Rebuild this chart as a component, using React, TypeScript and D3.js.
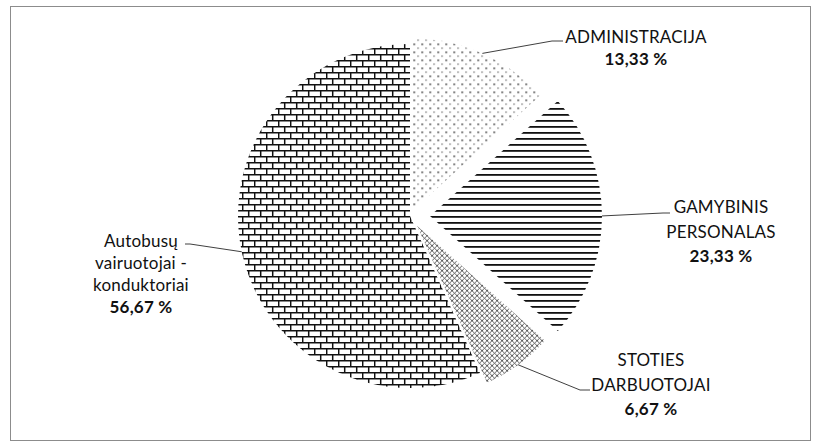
import React from "react";
import * as d3 from "d3";

// data
const categories = [
  "ADMINISTRACIJA",
  "GAMYBINIS PERSONALAS",
  "STOTIES DARBUOTOJAI",
  "Autobusų vairuotojai - konduktoriai",
];
const values = [13.33, 23.33, 6.67, 56.67];
const labelLines = [
  ["ADMINISTRACIJA"],
  ["GAMYBINIS", "PERSONALAS"],
  ["STOTIES", "DARBUOTOJAI"],
  ["Autobusų", "vairuotojai -", "konduktoriai"],
];

// layout / style (not data)
const width = 822;
const height = 448;
const cx = 410;
const cy = 216;
const radius = 172;
const explode = [6, 20, 12, 0];
const patterns = ["dots", "hlines", "trellis", "brick"];
const labelLayout = [
  { x: 636, y: 43, lh: 22, leader: [[552, 41], [563, 41]] },
  { x: 721, y: 213, lh: 24.5, leader: [[663, 213], [670, 213]] },
  { x: 651, y: 366, lh: 24.5, leader: [[580, 390], [590, 390]] },
  { x: 141, y: 247, lh: 22, leader: [[190, 244], [185, 244]] },
];

const fmt = (v: number) => d3.format(".2f")(v).replace(".", ",") + " %";

const App = () => {
  const pie = d3
    .pie<number>()
    .sort(null)
    .value((d) => d)
    .startAngle(0)
    .endAngle(2 * Math.PI);
  const arcs = pie(values);
  const arc = d3.arc<d3.PieArcDatum<number>>().innerRadius(0).outerRadius(radius);

  const offsets = arcs.map((a, i) => {
    const mid = (a.startAngle + a.endAngle) / 2;
    return [Math.sin(mid) * explode[i], -Math.cos(mid) * explode[i]];
  });

  const font = "Lato, 'Open Sans', sans-serif";

  return (
    <svg
      width={width}
      height={height}
      style={{ position: "absolute", left: 0, top: 0, background: "#fff" }}
    >
      <defs>
        <pattern id="dots" width="8" height="8" patternUnits="userSpaceOnUse">
          <rect x="1" y="1" width="1.5" height="1.5" fill="#222" />
          <rect x="5" y="5" width="1.2" height="1.2" fill="#444" />
        </pattern>
        <pattern id="hlines" width="6" height="6" patternUnits="userSpaceOnUse">
          <rect x="0" y="0" width="6" height="1.8" fill="#111" />
        </pattern>
        <pattern id="trellis" width="5" height="5" patternUnits="userSpaceOnUse">
          <path d="M0,0 L5,5 M5,0 L0,5" stroke="#333" strokeWidth="0.8" />
        </pattern>
        <pattern id="brick" width="12" height="12" patternUnits="userSpaceOnUse">
          <rect width="12" height="12" fill="#fff" />
          <path
            d="M0,0.7 H12 M0,6.7 H12 M0.7,0.7 V6.7 M6.7,6.7 V12.7"
            stroke="#111"
            strokeWidth="1.5"
            fill="none"
          />
        </pattern>
      </defs>

      <rect x={10.5} y={6.5} width={800} height={434} fill="#fff" stroke="#8c8c8c" strokeWidth={1} />

      <g transform={`translate(${cx},${cy})`}>
        {arcs.map((a, i) => (
          <path
            key={categories[i]}
            d={arc(a) || ""}
            transform={`translate(${offsets[i][0]},${offsets[i][1]})`}
            fill={`url(#${patterns[i]})`}
          />
        ))}
      </g>

      {arcs.map((a, i) => {
        const mid = (a.startAngle + a.endAngle) / 2;
        const sx = cx + offsets[i][0] + Math.sin(mid) * radius;
        const sy = cy + offsets[i][1] - Math.cos(mid) * radius;
        const pts = [[sx, sy], ...labelLayout[i].leader];
        const line = d3.line()(pts as [number, number][]);
        return (
          <path key={"l" + i} d={line || ""} fill="none" stroke="#404040" strokeWidth={1} />
        );
      })}

      {labelLines.map((lines, i) => {
        const L = labelLayout[i];
        return (
          <g key={"t" + i} fontFamily={font} fontSize={17} fill="#111" textAnchor="middle" letterSpacing={0.2}>
            {lines.map((s, j) => (
              <text key={j} x={L.x} y={L.y + j * L.lh}>
                {s}
              </text>
            ))}
            <text x={L.x} y={L.y + lines.length * L.lh} fontWeight="bold">
              {fmt(values[i])}
            </text>
          </g>
        );
      })}
    </svg>
  );
};

export default App;
